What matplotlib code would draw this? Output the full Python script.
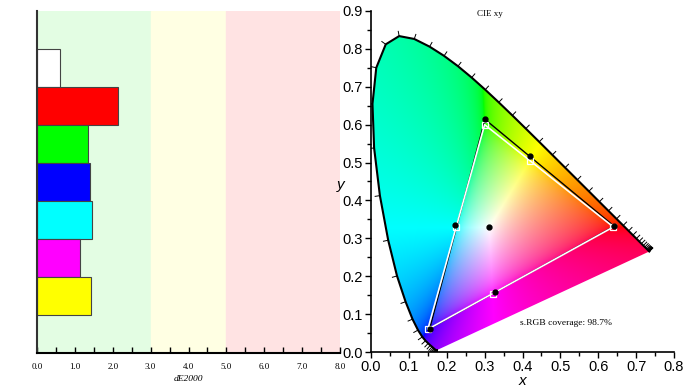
import numpy as np
import matplotlib
matplotlib.use("Agg")
import matplotlib.pyplot as plt
from matplotlib.patches import Polygon
from matplotlib.collections import LineCollection
from matplotlib.ticker import MultipleLocator

# --- left panel: dE2000 per patch ---
patch_names = ['White', 'Red', 'Green', 'Blue', 'Cyan', 'Magenta', 'Yellow']
patch_colors = ['#ffffff', '#ff0000', '#00ff00', '#0000ff', '#00ffff', '#ff00ff', '#ffff00']
de2000 = [0.62, 2.15, 1.35, 1.41, 1.46, 1.13, 1.42]

# --- right panel: CIE 1931 spectral locus (380..700 nm, 5 nm steps) ---
locus_x = [0.1741, 0.1740, 0.1738, 0.1736, 0.1733, 0.1730, 0.1726, 0.1721, 0.1714, 0.1703,
           0.1689, 0.1669, 0.1644, 0.1611, 0.1566, 0.1510, 0.1440, 0.1355, 0.1241, 0.1096,
           0.0913, 0.0687, 0.0454, 0.0235, 0.0082, 0.0039, 0.0139, 0.0389, 0.0743, 0.1142,
           0.1547, 0.1929, 0.2296, 0.2658, 0.3016, 0.3373, 0.3731, 0.4087, 0.4441, 0.4788,
           0.5125, 0.5448, 0.5752, 0.6029, 0.6270, 0.6482, 0.6658, 0.6801, 0.6915, 0.7006,
           0.7079, 0.7140, 0.7190, 0.7230, 0.7260, 0.7283, 0.7300, 0.7311, 0.7320, 0.7327,
           0.7334, 0.7340, 0.7344, 0.7346, 0.7347]
locus_y = [0.0050, 0.0050, 0.0049, 0.0049, 0.0048, 0.0048, 0.0048, 0.0048, 0.0051, 0.0058,
           0.0069, 0.0086, 0.0109, 0.0138, 0.0177, 0.0227, 0.0297, 0.0399, 0.0578, 0.0868,
           0.1327, 0.2007, 0.2950, 0.4127, 0.5384, 0.6548, 0.7502, 0.8120, 0.8338, 0.8262,
           0.8059, 0.7816, 0.7543, 0.7243, 0.6923, 0.6589, 0.6245, 0.5896, 0.5547, 0.5202,
           0.4866, 0.4544, 0.4242, 0.3965, 0.3725, 0.3514, 0.3340, 0.3197, 0.3083, 0.2993,
           0.2920, 0.2859, 0.2809, 0.2770, 0.2740, 0.2717, 0.2700, 0.2689, 0.2680, 0.2673,
           0.2666, 0.2660, 0.2656, 0.2654, 0.2653]

# sRGB reference gamut (R, G, B) and secondaries (Y, C, M)
ref_prim_x = [0.640, 0.300, 0.150]
ref_prim_y = [0.330, 0.600, 0.060]
ref_sec_x = [0.419, 0.225, 0.321]
ref_sec_y = [0.505, 0.329, 0.154]
# measured
meas_prim_x = [0.642, 0.301, 0.155]
meas_prim_y = [0.332, 0.614, 0.062]
meas_sec_x = [0.419, 0.222, 0.327]
meas_sec_y = [0.517, 0.335, 0.159]
white_x, white_y = 0.312, 0.329

fig = plt.figure(figsize=(6.93, 3.9), dpi=100)

# ================= left bar panel =================
ax1 = fig.add_axes([37 / 693, 37 / 390, 303 / 693, 342 / 390])
ax1.axvspan(0, 3, color='#e3fde3', zorder=0)
ax1.axvspan(3, 5, color='#ffffe3', zorder=0)
ax1.axvspan(5, 8, color='#ffe3e3', zorder=0)
pos = np.arange(len(patch_names))
ax1.barh(pos, de2000, height=1.0, color=patch_colors, edgecolor='#444444', linewidth=0.8, zorder=2)
ax1.set_xlim(0, 8)
ax1.set_ylim(7.5, -1.5)
ax1.set_yticks([])
for s in ['top', 'right']:
    ax1.spines[s].set_visible(False)
ax1.spines['left'].set_color('#333333')
ax1.spines['left'].set_linewidth(1.5)
ax1.spines['bottom'].set_linewidth(1.5)
ax1.xaxis.set_major_locator(MultipleLocator(1.0))
ax1.xaxis.set_minor_locator(MultipleLocator(0.5))
ax1.tick_params(axis='x', which='both', direction='in', length=4, width=1.0, pad=7,
                labelsize=6.5)
ax1.set_xticks(np.arange(0, 8.1, 1.0))
ax1.set_xticklabels(['%.1f' % v for v in np.arange(0, 8.1, 1.0)], family='Liberation Serif')
ax1.set_xlabel('dE2000', family='Liberation Serif', style='italic', fontsize=6.8, labelpad=3)

# ================= right CIE xy panel =================
ax2 = fig.add_axes([371 / 693, 38 / 390, 303 / 693, 341 / 390])
ax2.set_xlim(0, 0.8)
ax2.set_ylim(0, 0.9)

# colour fill of the horseshoe
gx = np.linspace(0.0005, 0.7995, 480)
gy = np.linspace(0.0005, 0.8995, 540)
X, Y = np.meshgrid(gx, gy)
Xc = X / Y
Zc = (1 - X - Y) / Y
M = np.array([[3.2406, -1.5372, -0.4986],
              [-0.9689, 1.8758, 0.0415],
              [0.0557, -0.2040, 1.0570]])
rgb = np.stack([M[i, 0] * Xc + M[i, 1] + M[i, 2] * Zc for i in range(3)], axis=-1)
mn = rgb.min(axis=-1, keepdims=True)
rgb = np.where(mn < 0, rgb - mn, rgb)
rgb = rgb / rgb.max(axis=-1, keepdims=True)
rgb = np.where(rgb <= 0.0031308, 12.92 * rgb, 1.055 * np.power(np.clip(rgb, 0, 1), 1 / 2.4) - 0.055)
rgb = np.clip(rgb, 0, 1)

locus = np.column_stack([locus_x, locus_y])
clip = Polygon(locus, closed=True, facecolor='none', edgecolor='none', transform=ax2.transData)
ax2.add_patch(clip)
im = ax2.imshow(rgb, origin='lower', extent=(0, 0.8, 0, 0.9), aspect='auto',
                interpolation='bilinear', zorder=1)
im.set_clip_path(clip)

ax2.plot(locus_x, locus_y, color='black', lw=1.5, zorder=3)

# wavelength ticks along the locus
n = len(locus)
segs = []
for i in range(n):
    a = locus[max(i - 1, 0)]
    b = locus[min(i + 1, n - 1)]
    t = b - a
    nv = np.array([t[1], -t[0]])
    nv = nv / np.hypot(*nv)
    if np.dot(nv, locus[i] - np.array([white_x, white_y])) < 0:
        nv = -nv
    segs.append([locus[i], locus[i] + nv * 0.014])
ax2.add_collection(LineCollection(segs, colors='black', linewidths=0.7, zorder=3))

# gamut triangles
ax2.plot(meas_prim_x + meas_prim_x[:1], meas_prim_y + meas_prim_y[:1], color='black', lw=1.0, zorder=4)
ax2.plot(ref_prim_x + ref_prim_x[:1], ref_prim_y + ref_prim_y[:1], color='white', lw=1.2, zorder=5)
ax2.plot(ref_prim_x + ref_sec_x, ref_prim_y + ref_sec_y, ls='none', marker='s', ms=4,
         mfc='none', mec='white', mew=0.9, zorder=6)
ax2.plot(meas_prim_x + meas_sec_x + [white_x], meas_prim_y + meas_sec_y + [white_y], ls='none',
         marker='o', ms=3.5, color='black', zorder=7)

for s in ['top', 'right']:
    ax2.spines[s].set_visible(False)
ax2.spines['left'].set_linewidth(1.2)
ax2.spines['bottom'].set_linewidth(1.2)
ax2.xaxis.set_major_locator(MultipleLocator(0.1))
ax2.xaxis.set_minor_locator(MultipleLocator(0.05))
ax2.yaxis.set_major_locator(MultipleLocator(0.1))
ax2.yaxis.set_minor_locator(MultipleLocator(0.05))
ax2.tick_params(which='major', direction='out', length=4, width=1.0, labelsize=10.5, pad=2)
ax2.tick_params(which='minor', direction='out', length=3, width=1.0)
for lab in ax2.get_xticklabels() + ax2.get_yticklabels():
    lab.set_family('Liberation Sans')
ax2.set_xlabel('x', family='Liberation Sans', style='italic', fontsize=11, labelpad=0)
ax2.set_ylabel('y', family='Liberation Sans', style='italic', fontsize=11, labelpad=2, rotation=0)
ax2.yaxis.set_label_coords(-0.1, 0.47)

ax2.text(0.393, 0.99, 'CIE xy', transform=ax2.transAxes, ha='center', va='center',
         family='Liberation Serif', fontsize=6.5)
ax2.text(0.515, 0.077, 's.RGB coverage: 98.7%', ha='center', va='center',
         family='Liberation Serif', fontsize=6.8, zorder=8)

fig.savefig('out.png', dpi=100)
